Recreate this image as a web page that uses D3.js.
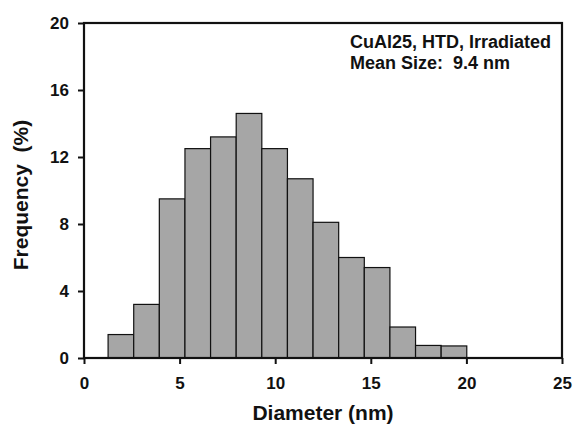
<!DOCTYPE html>
<html lang="en">
<head>
<meta charset="utf-8">
<title>Size distribution</title>
<script src="https://cdn.jsdelivr.net/npm/d3@7"></script>
<style>
  body { margin: 0; background: white; }
  svg { display: block; }
  text { font-family: "Liberation Sans", Arial, sans-serif; font-weight: bold; fill: #111; }
</style>
</head>
<body>
<script>
// bin edges (nm) and frequency (%) per bin
var binEdges = [1.26, 2.6, 3.94, 5.28, 6.62, 7.96, 9.3, 10.64, 11.98, 13.32, 14.66, 16.0, 17.34, 18.68, 20.02];
var freq = [1.4, 3.2, 9.5, 12.5, 13.2, 14.6, 12.5, 10.7, 8.1, 6.0, 5.4, 1.85, 0.75, 0.72];
var xTicks = [0, 5, 10, 15, 20, 25];
var yTicks = [0, 4, 8, 12, 16, 20];
var notes = ["CuAl25, HTD, Irradiated", "Mean Size:  9.4 nm"];

var width = 574, height = 426;
var margin = {top: 23, right: 12, bottom: 68, left: 84};

var svg = d3.select("body").append("svg")
    .attr("width", width)
    .attr("height", height);

var x = d3.scaleLinear().domain([0, 25]).range([margin.left, width - margin.right]);
var y = d3.scaleLinear().domain([0, 20]).range([height - margin.bottom, margin.top]);

var bins = freq.map(function(f, i) { return {x0: binEdges[i], x1: binEdges[i + 1], v: f}; });

svg.append("g").selectAll("rect")
    .data(bins)
    .enter().append("rect")
    .attr("x", function(d) { return x(d.x0); })
    .attr("width", function(d) { return x(d.x1) - x(d.x0); })
    .attr("y", function(d) { return y(d.v); })
    .attr("height", function(d) { return y(0) - y(d.v); })
    .attr("fill", "#a6a6a6")
    .attr("stroke", "#111")
    .attr("stroke-width", 1.2);

// frame
svg.append("rect")
    .attr("x", x(0)).attr("y", y(20))
    .attr("width", x(25) - x(0)).attr("height", y(0) - y(20))
    .attr("fill", "none").attr("stroke", "#111").attr("stroke-width", 2.2);

var xAxis = svg.append("g")
    .attr("transform", "translate(0," + y(0) + ")")
    .call(d3.axisBottom(x).tickValues(xTicks).tickSize(6).tickPadding(13));
var yAxis = svg.append("g")
    .attr("transform", "translate(" + x(0) + ",0)")
    .call(d3.axisLeft(y).tickValues(yTicks).tickSize(6).tickPadding(9));

[xAxis, yAxis].forEach(function(g) {
    g.select(".domain").remove();
    g.selectAll("line").attr("stroke", "#111").attr("stroke-width", 2);
    g.selectAll("text").attr("font-size", 17).attr("font-weight", "bold")
        .attr("font-family", "Liberation Sans, Arial, sans-serif").attr("fill", "#111");
});

svg.append("text")
    .attr("x", (x(0) + x(25)) / 2)
    .attr("y", 420)
    .attr("text-anchor", "middle")
    .attr("font-size", 21)
    .text("Diameter (nm)");

svg.append("text")
    .attr("transform", "translate(28,195) rotate(-90)")
    .attr("text-anchor", "middle")
    .attr("font-size", 21)
    .style("white-space", "pre")
    .text("Frequency  (%)");

svg.append("g").selectAll("text")
    .data(notes)
    .enter().append("text")
    .attr("x", 350)
    .attr("y", function(d, i) { return 48 + i * 21; })
    .attr("font-size", 18)
    .style("white-space", "pre")
    .text(function(d) { return d; });
</script>
</body>
</html>
